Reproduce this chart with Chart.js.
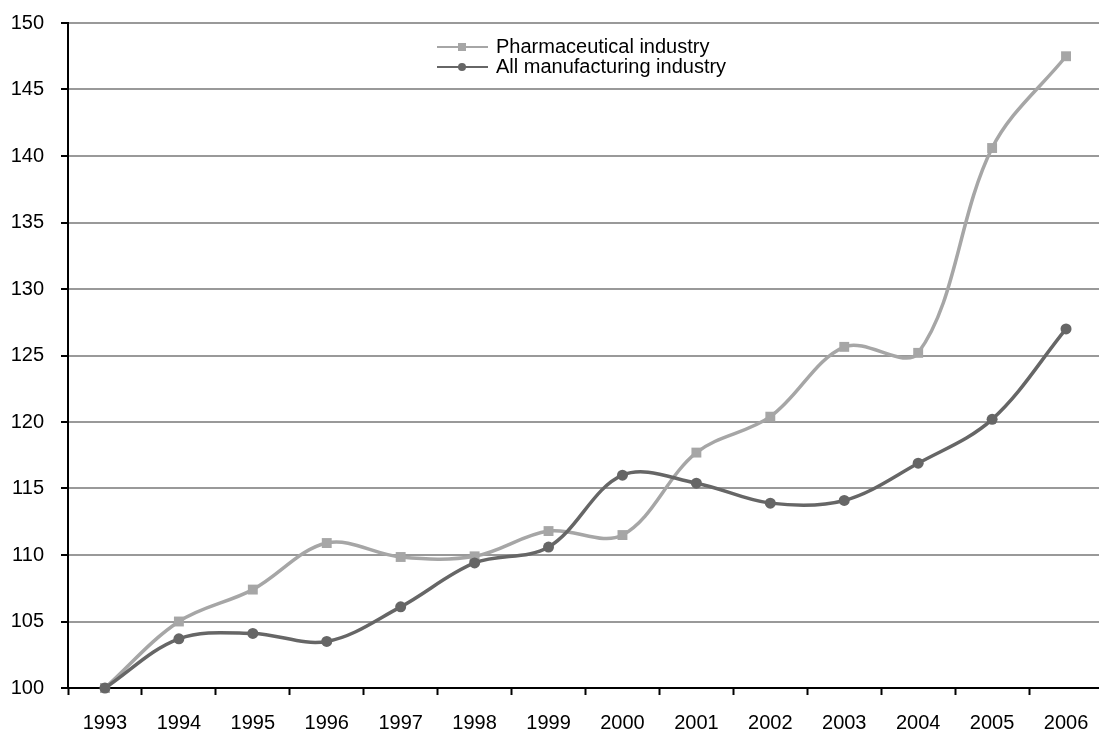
<!DOCTYPE html>
<html>
<head>
<meta charset="utf-8">
<script src="https://cdn.jsdelivr.net/npm/chart.js@4/dist/chart.umd.min.js"></script>
<style>
  html, body { margin: 0; padding: 0; background: #ffffff; overflow: hidden; }
  #wrap { width: 1099px; height: 731px; position: relative; overflow: hidden; }
  #c { display: block; }
</style>
</head>
<body>
<div id="wrap"><canvas id="c" width="1110" height="731"></canvas></div>
<script>
const years = ['1993','1994','1995','1996','1997','1998','1999','2000','2001','2002','2003','2004','2005','2006'];
const pharmaceutical = [100, 105.0, 107.4, 110.9, 109.85, 109.9, 111.8, 111.5, 117.7, 120.4, 125.65, 125.2, 140.6, 147.5];
const allManufacturing = [100, 103.7, 104.1, 103.5, 106.1, 109.4, 110.6, 116.0, 115.4, 113.9, 114.1, 116.9, 120.2, 127.0];
const seriesNames = ['Pharmaceutical industry', 'All manufacturing industry'];
const yMin = 100, yMax = 150, yStep = 5;

const FONT = 'Arial, "Liberation Sans", sans-serif';
const pharmaColor = '#a6a6a6';
const manufColor = '#666666';

const insideLegend = {
  id: 'insideLegend',
  afterDraw(chart) {
    const ctx = chart.ctx;
    const items = [
      { name: seriesNames[0], color: pharmaColor, style: 'rect', y: 47 },
      { name: seriesNames[1], color: manufColor, style: 'circle', y: 67 }
    ];
    ctx.save();
    items.forEach(it => {
      ctx.strokeStyle = it.color;
      ctx.lineWidth = 2;
      ctx.beginPath();
      ctx.moveTo(437, it.y);
      ctx.lineTo(488, it.y);
      ctx.stroke();
      ctx.fillStyle = it.color;
      if (it.style === 'rect') {
        ctx.fillRect(458, it.y - 4, 8, 8);
      } else {
        ctx.beginPath();
        ctx.arc(462, it.y, 4, 0, Math.PI * 2);
        ctx.fill();
      }
      ctx.fillStyle = '#000';
      ctx.font = '20px ' + FONT;
      ctx.textBaseline = 'middle';
      ctx.textAlign = 'left';
      ctx.fillText(it.name, 496, it.y);
    });
    ctx.restore();
  }
};

new Chart(document.getElementById('c'), {
  type: 'line',
  data: {
    labels: years,
    datasets: [
      {
        label: seriesNames[0],
        data: pharmaceutical,
        borderColor: pharmaColor,
        backgroundColor: pharmaColor,
        borderWidth: 3.5,
        pointStyle: 'rect',
        pointRadius: 7,
        pointBorderWidth: 0,
        tension: 0.35,
        clip: false,
        order: 1
      },
      {
        label: seriesNames[1],
        data: allManufacturing,
        borderColor: manufColor,
        backgroundColor: manufColor,
        borderWidth: 3.5,
        pointStyle: 'circle',
        pointRadius: 5.5,
        pointBorderWidth: 0,
        tension: 0.35,
        clip: false,
        order: 0
      }
    ]
  },
  options: {
    responsive: false,
    animation: false,
    layout: { padding: { top: 23, right: 1, left: 0, bottom: 0 } },
    plugins: { legend: { display: false }, tooltip: { enabled: false } },
    scales: {
      x: {
        offset: true,
        grid: {
          offset: true,
          drawOnChartArea: false,
          drawTicks: true,
          tickLength: 7,
          tickWidth: 2,
          tickColor: '#000'
        },
        border: { color: '#000', width: 2 },
        ticks: { color: '#000', font: { size: 20, family: FONT }, padding: 16, maxRotation: 0, autoSkip: false },
        afterFit(scale) { scale.height = 43; scale.paddingLeft = 0; scale.paddingRight = 0; }
      },
      y: {
        min: yMin,
        max: yMax,
        grid: {
          color: '#999999',
          lineWidth: 2,
          drawTicks: true,
          tickLength: 7,
          tickWidth: 2,
          tickColor: '#000'
        },
        border: { color: '#000', width: 2 },
        ticks: { stepSize: yStep, color: '#000', font: { size: 20, family: FONT }, padding: 17 },
        afterFit(scale) { scale.width = 68; scale.paddingTop = 0; scale.paddingBottom = 0; }
      }
    }
  },
  plugins: [insideLegend]
});
</script>
</body>
</html>
